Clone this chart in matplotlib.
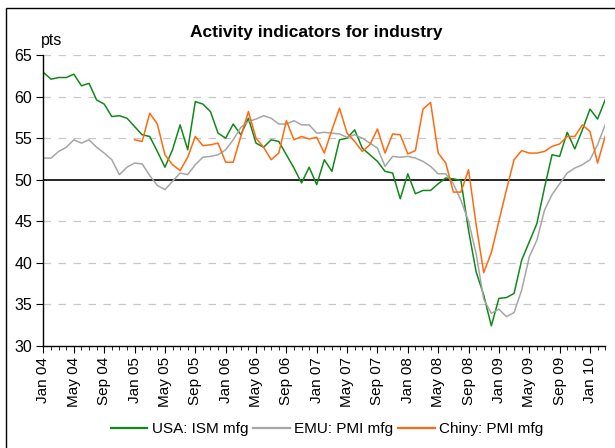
import numpy as np
import matplotlib.pyplot as plt
from matplotlib.patches import Rectangle

plt.rcParams['font.family'] = ['Liberation Sans', 'DejaVu Sans']

# monthly data, Jan 2004 - Mar 2010
months = ['Jan', 'Feb', 'Mar', 'Apr', 'May', 'Jun', 'Jul', 'Aug', 'Sep', 'Oct', 'Nov', 'Dec']
labels = ['{} {:02d}'.format(months[i % 12], 4 + i // 12) for i in range(75)]

usa_ism = [62.9, 62.1, 62.3, 62.3, 62.7, 61.3, 61.6, 59.6, 59.1, 57.6, 57.7, 57.4,
           56.4, 55.4, 55.2, 53.4, 51.5, 53.6, 56.6, 53.6, 59.4, 59.1, 58.2, 55.6,
           55.0, 56.7, 55.4, 57.4, 54.4, 53.9, 54.8, 54.6, 53.0, 51.4, 49.6, 51.5,
           49.4, 52.4, 51.0, 54.8, 55.0, 56.0, 53.8, 53.0, 52.2, 51.0, 50.8, 47.7,
           50.7, 48.3, 48.7, 48.7, 49.5, 50.2, 50.1, 49.9, 43.9, 38.9, 36.1, 32.4,
           35.7, 35.8, 36.3, 40.3, 42.5, 44.7, 49.0, 53.0, 52.8, 55.7, 53.7, 56.0,
           58.5, 57.3, 59.6]

emu_pmi = [52.6, 52.6, 53.4, 53.9, 54.8, 54.4, 54.8, 53.9, 53.2, 52.4, 50.6, 51.5,
           52.0, 51.9, 50.5, 49.3, 48.8, 49.8, 50.8, 50.6, 51.8, 52.7, 52.8, 53.0,
           53.6, 54.8, 56.3, 57.0, 57.3, 57.7, 57.4, 56.7, 56.7, 57.1, 56.6, 56.6,
           55.6, 55.7, 55.6, 55.5, 55.1, 55.4, 55.0, 54.4, 53.8, 51.6, 52.8, 52.7,
           52.8, 52.6, 52.2, 51.6, 50.7, 50.7, 49.5, 47.5, 45.0, 41.1, 35.6, 33.9,
           34.4, 33.5, 34.0, 36.7, 40.7, 42.7, 46.3, 48.2, 49.5, 50.8, 51.4, 51.8,
           52.4, 54.2, 56.6]

china_pmi = [np.nan] * 12 + [
           54.8, 54.6, 58.0, 56.7, 53.0, 51.8, 51.1, 52.7, 55.2, 54.1, 54.2, 54.4,
           52.1, 52.1, 55.2, 58.2, 55.0, 53.9, 52.4, 53.2, 57.1, 54.8, 55.2, 54.9,
           55.1, 53.2, 56.0, 58.6, 55.6, 54.6, 53.4, 54.2, 56.1, 53.2, 55.5, 55.4,
           53.1, 53.5, 58.5, 59.3, 53.2, 52.0, 48.5, 48.5, 51.2, 44.6, 38.8, 41.2,
           45.0, 48.8, 52.4, 53.5, 53.2, 53.2, 53.4, 54.0, 54.3, 55.2, 55.2, 56.6,
           55.8, 52.0, 55.2]

x = np.arange(len(labels))

fig = plt.figure(figsize=(6.15, 4.48), dpi=100)
ax = fig.add_axes([0.0707, 0.2283, 0.9133, 0.6487])

ax.plot(x, usa_ism, color='#12881a', lw=1.1, label='USA: ISM mfg')
ax.plot(x, emu_pmi, color='#a6a6a6', lw=1.1, label='EMU: PMI mfg')
ax.plot(x, china_pmi, color='#ff6a10', lw=1.1, label='Chiny: PMI mfg')
ax.axhline(50, color='black', lw=1.2, zorder=1)

ax.set_xlim(0, len(labels) - 1)
ax.set_ylim(30, 65)
ax.set_yticks(range(30, 66, 5))
ax.set_xticks(x[::4])
ax.set_xticklabels(labels[::4], rotation=90)
ax.set_xticks(x, minor=True)
ax.tick_params(axis='x', which='major', length=5, pad=3, labelsize=11)
ax.tick_params(axis='x', which='minor', length=3)
ax.tick_params(axis='y', length=5, pad=3, labelsize=11.5)

for yv in [35, 40, 45, 55, 60, 65]:
    ax.axhline(yv, color='#c8c8c8', lw=0.9, ls=(0, (6, 6)), zorder=0)

for s in ['top', 'right']:
    ax.spines[s].set_visible(False)
ax.spines['left'].set_linewidth(1.0)
ax.spines['bottom'].set_linewidth(1.0)

fig.text(316 / 615, 1 - 33 / 448, 'Activity indicators for industry',
         ha='center', va='center', fontsize=12.5, fontweight='bold')
fig.text(41 / 615, 1 - 41 / 448, 'pts', ha='left', va='center', fontsize=11.5)

leg = fig.legend(loc='center', bbox_to_anchor=(327 / 615, 1 - 429 / 448), ncol=3,
                 frameon=False, fontsize=11, handlelength=2.4, handletextpad=0.3,
                 columnspacing=0.3)
for h in leg.get_lines():
    h.set_linewidth(1.6)

fig.patches.append(Rectangle((6 / 615, -0.1), 1.0, 1.1 - 8 / 448,
                             transform=fig.transFigure, fill=False,
                             edgecolor='black', lw=1.0))

fig.savefig('out.png', dpi=100)
